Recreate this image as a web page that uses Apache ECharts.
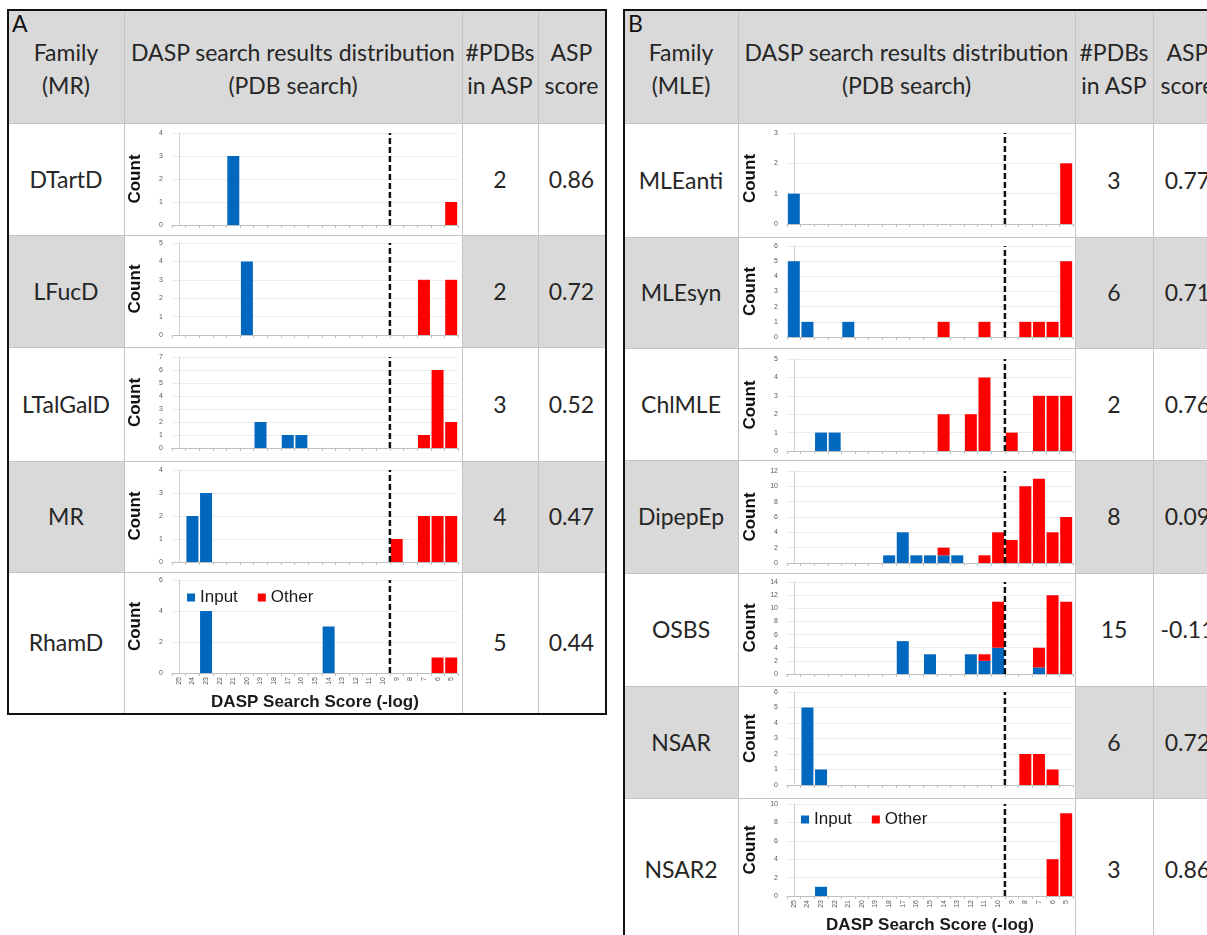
<!DOCTYPE html>
<html><head><meta charset="utf-8">
<script src="https://cdn.jsdelivr.net/npm/echarts@6/dist/echarts.min.js"></script>
<style>
html,body{margin:0;padding:0;width:1207px;height:935px;overflow:hidden;background:#fff;}
#tables{position:absolute;left:0;top:0;width:1207px;height:935px;overflow:hidden;}
#chart{position:absolute;left:0;top:0;width:1207px;height:935px;}
.bg{position:absolute;background:#d9d9d9;}
.ln{position:absolute;background:#c4c4c4;}
.box{position:absolute;box-sizing:border-box;border:2.5px solid #111;}
.cell{position:absolute;box-sizing:border-box;display:flex;align-items:center;justify-content:center;text-align:center;
  font-family:Lato,"Open Sans",sans-serif;font-size:23px;color:#262626;line-height:33px;white-space:pre;}
.lab{position:absolute;font-family:Lato,"Open Sans",sans-serif;font-size:23px;color:#111;line-height:23px;}
</style></head>
<body><div id="tables"></div><div id="chart"></div>
<script>
// ---------- DATA ----------
const categories = ['25','24','23','22','21','20','19','18','17','16','15','14','13','12','11','10','9','8','7','6','5'];
const cutoffScore = 9.5;

const headerA = ['Family\n(MR)', 'DASP search results distribution\n(PDB search)', '#PDBs\nin ASP', 'ASP\nscore'];
const headerB = ['Family\n(MLE)', 'DASP search results distribution\n(PDB search)', '#PDBs\nin ASP', 'ASP\nscore'];
const familiesA = ['DTartD','LFucD','LTalGalD','MR','RhamD'];
const pdbsA = ['2','2','3','4','5'];
const aspA = ['0.86','0.72','0.52','0.47','0.44'];
const familiesB = ['MLEanti','MLEsyn','ChlMLE','DipepEp','OSBS','NSAR','NSAR2'];
const pdbsB = ['3','6','2','8','15','6','3'];
const aspB = ['0.77','0.71','0.76','0.09','-0.11','0.72','0.86'];

//                   25 24 23 22 21 20 19 18 17 16 15 14 13 12 11 10  9  8  7  6  5
const dtartdInput   = [0, 0, 0, 0, 3, 0, 0, 0, 0, 0, 0, 0, 0, 0, 0, 0, 0, 0, 0, 0, 0];
const dtartdOther   = [0, 0, 0, 0, 0, 0, 0, 0, 0, 0, 0, 0, 0, 0, 0, 0, 0, 0, 0, 0, 1];
const lfucdInput    = [0, 0, 0, 0, 0, 4, 0, 0, 0, 0, 0, 0, 0, 0, 0, 0, 0, 0, 0, 0, 0];
const lfucdOther    = [0, 0, 0, 0, 0, 0, 0, 0, 0, 0, 0, 0, 0, 0, 0, 0, 0, 0, 3, 0, 3];
const ltalgaldInput = [0, 0, 0, 0, 0, 0, 2, 0, 1, 1, 0, 0, 0, 0, 0, 0, 0, 0, 0, 0, 0];
const ltalgaldOther = [0, 0, 0, 0, 0, 0, 0, 0, 0, 0, 0, 0, 0, 0, 0, 0, 0, 0, 1, 6, 2];
const mrInput       = [0, 2, 3, 0, 0, 0, 0, 0, 0, 0, 0, 0, 0, 0, 0, 0, 0, 0, 0, 0, 0];
const mrOther       = [0, 0, 0, 0, 0, 0, 0, 0, 0, 0, 0, 0, 0, 0, 0, 0, 1, 0, 2, 2, 2];
const rhamdInput    = [0, 0, 4, 0, 0, 0, 0, 0, 0, 0, 0, 3, 0, 0, 0, 0, 0, 0, 0, 0, 0];
const rhamdOther    = [0, 0, 0, 0, 0, 0, 0, 0, 0, 0, 0, 0, 0, 0, 0, 0, 0, 0, 0, 1, 1];

const mleantiInput  = [1, 0, 0, 0, 0, 0, 0, 0, 0, 0, 0, 0, 0, 0, 0, 0, 0, 0, 0, 0, 0];
const mleantiOther  = [0, 0, 0, 0, 0, 0, 0, 0, 0, 0, 0, 0, 0, 0, 0, 0, 0, 0, 0, 0, 2];
const mlesynInput   = [5, 1, 0, 0, 1, 0, 0, 0, 0, 0, 0, 0, 0, 0, 0, 0, 0, 0, 0, 0, 0];
const mlesynOther   = [0, 0, 0, 0, 0, 0, 0, 0, 0, 0, 0, 1, 0, 0, 1, 0, 0, 1, 1, 1, 5];
const chlmleInput   = [0, 0, 1, 1, 0, 0, 0, 0, 0, 0, 0, 0, 0, 0, 0, 0, 0, 0, 0, 0, 0];
const chlmleOther   = [0, 0, 0, 0, 0, 0, 0, 0, 0, 0, 0, 2, 0, 2, 4, 0, 1, 0, 3, 3, 3];
const dipepepInput  = [0, 0, 0, 0, 0, 0, 0, 1, 4, 1, 1, 1, 1, 0, 0, 0, 0, 0, 0, 0, 0];
const dipepepOther  = [0, 0, 0, 0, 0, 0, 0, 0, 0, 0, 0, 1, 0, 0, 1, 4, 3,10,11, 4, 6];
const osbsInput     = [0, 0, 0, 0, 0, 0, 0, 0, 5, 0, 3, 0, 0, 3, 2, 4, 0, 0, 1, 0, 0];
const osbsOther     = [0, 0, 0, 0, 0, 0, 0, 0, 0, 0, 0, 0, 0, 0, 1, 7, 0, 0, 3,12,11];
const nsarInput     = [0, 5, 1, 0, 0, 0, 0, 0, 0, 0, 0, 0, 0, 0, 0, 0, 0, 0, 0, 0, 0];
const nsarOther     = [0, 0, 0, 0, 0, 0, 0, 0, 0, 0, 0, 0, 0, 0, 0, 0, 0, 2, 2, 1, 0];
const nsar2Input    = [0, 0, 1, 0, 0, 0, 0, 0, 0, 0, 0, 0, 0, 0, 0, 0, 0, 0, 0, 0, 0];
const nsar2Other    = [0, 0, 0, 0, 0, 0, 0, 0, 0, 0, 0, 0, 0, 0, 0, 0, 0, 0, 0, 4, 9];

const yMaxA  = [4, 5, 7, 4, 6];
const yStepA = [1, 1, 1, 1, 2];
const yMaxB  = [3, 6, 5, 12, 14, 6, 10];
const yStepB = [1, 1, 1, 2, 2, 1, 2];

const inputsA = [dtartdInput, lfucdInput, ltalgaldInput, mrInput, rhamdInput];
const othersA = [dtartdOther, lfucdOther, ltalgaldOther, mrOther, rhamdOther];
const inputsB = [mleantiInput, mlesynInput, chlmleInput, dipepepInput, osbsInput, nsarInput, nsar2Input];
const othersB = [mleantiOther, mlesynOther, chlmleOther, dipepepOther, osbsOther, nsarOther, nsar2Other];

// ---------- LAYOUT ----------
const tables = [
  {label:'A', header:headerA, fam:familiesA, pdb:pdbsA, asp:aspA, inputs:inputsA, others:othersA, yMax:yMaxA, yStep:yStepA,
   cols:[8,124,462,538,605], rows:[11,123,235,347,461,572,713],
   plotTop:[133,243,357,470,580], plotH:[92,92,91,92,93], plotLeft:172, legend:[182,584]},
  {label:'B', header:headerB, fam:familiesB, pdb:pdbsB, asp:aspB, inputs:inputsB, others:othersB, yMax:yMaxB, yStep:yStepB,
   cols:[624,738,1075,1153,1222], rows:[11,123,237,348,460,573,686,798,940],
   plotTop:[133,246,359,471,582,692,804], plotH:[91,91,92,92,92,93,94], plotLeft:787, legend:[796,806]}
];
const plotW = 286;

// ---------- TABLES (HTML) ----------
const host = document.getElementById('tables');
function add(cls, x, y, w, h, text){
  const d = document.createElement('div'); d.className = cls;
  d.style.left = x+'px'; d.style.top = y+'px';
  if (w!=null) d.style.width = w+'px';
  if (h!=null) d.style.height = h+'px';
  if (text!=null) d.textContent = text;
  host.appendChild(d); return d;
}
tables.forEach(t => {
  const c = t.cols, r = t.rows;
  add('bg', c[0], r[0], c[4]-c[0], r[1]-r[0]);
  for (let i=1;i<r.length-1;i++){
    if ((i-1)%2===1){
      add('bg', c[0], r[i], c[1]-c[0], r[i+1]-r[i]);
      add('bg', c[2], r[i], c[4]-c[2], r[i+1]-r[i]);
    }
  }
  for (let k=1;k<4;k++) add('ln', c[k]-0.5, r[0], 1.2, r[r.length-1]-r[0]);
  for (let i=1;i<r.length-1;i++) add('ln', c[0], r[i]-0.5, c[4]-c[0], 1.5);
  for (let k=0;k<4;k++) add('cell', c[k], r[0], c[k+1]-c[k], r[1]-r[0]+4, t.header[k]);
  add('lab', c[0]+4, r[0]+1, null, null, t.label);
  t.fam.forEach((f,i) => {
    add('cell', c[0], r[i+1], c[1]-c[0], r[i+2]-r[i+1], f);
    add('cell', c[2], r[i+1], c[3]-c[2], r[i+2]-r[i+1], t.pdb[i]);
    add('cell', c[3], r[i+1], c[4]-c[3], r[i+2]-r[i+1], t.asp[i]);
  });
  add('box', c[0]-1.5, r[0]-2, c[4]-c[0]+3, r[r.length-1]-r[0]+3.5);
});

// ---------- CHARTS (ECharts) ----------
const cutoffIndex = categories.indexOf('10') + (10 - cutoffScore);
const grids = [], xAxes = [], yAxes = [], series = [], legends = [];
const axisFont = 'Liberation Sans';
tables.forEach(t => {
  const n = t.fam.length;
  for (let i=0;i<n;i++){
    const g = grids.length;
    const isBottom = (i === n-1);
    grids.push({left:t.plotLeft, top:t.plotTop[i], width:plotW, height:t.plotH[i], containLabel:false});
    xAxes.push({
      type:'category', gridIndex:g, data:categories, boundaryGap:true,
      axisLine:{show:true, lineStyle:{color:'#bfbfbf', width:1}},
      axisTick:{show:true, length:3, lineStyle:{color:'#bfbfbf'}},
      axisLabel:{show:isBottom, rotate:90, interval:0, fontSize:7, color:'#595959', margin:4, fontFamily:axisFont},
      splitLine:{show:false},
      name:isBottom ? 'DASP Search Score (-log)' : '', nameLocation:'middle', nameGap:21,
      nameTextStyle:{fontSize:17, fontWeight:'bold', color:'#1a1a1a', fontFamily:axisFont}
    });
    xAxes.push({type:'value', gridIndex:g, min:-0.5, max:categories.length-0.5, show:false});
    yAxes.push({
      type:'value', gridIndex:g, min:0, max:t.yMax[i], interval:t.yStep[i],
      axisLine:{show:true, lineStyle:{color:'#d0d0d0'}},
      axisTick:{show:false},
      axisLabel:{fontSize:7, color:'#595959', margin:9, fontFamily:axisFont},
      splitLine:{show:true, lineStyle:{color:'#ececec', width:1}},
      name:'Count', nameLocation:'middle', nameGap:28,
      nameTextStyle:{fontSize:17, fontWeight:'bold', color:'#111', fontFamily:axisFont}
    });
    series.push({name:'Input', type:'bar', xAxisIndex:2*g, yAxisIndex:g, stack:'s'+g, data:t.inputs[i],
      barCategoryGap:'12%', itemStyle:{color:'#0068BF'}, silent:true});
    series.push({name:'Other', type:'bar', xAxisIndex:2*g, yAxisIndex:g, stack:'s'+g, data:t.others[i],
      barCategoryGap:'12%', itemStyle:{color:'#FF0000'}, silent:true});
    series.push({name:'cutoff'+g, type:'line', xAxisIndex:2*g+1, yAxisIndex:g,
      data:[[cutoffIndex,0],[cutoffIndex,t.yMax[i]]], symbol:'none', z:5, silent:true,
      lineStyle:{color:'#111', width:2.5, type:[6,3]}});
  }
  legends.push({data:['Input','Other'], left:t.legend[0], top:t.legend[1], icon:'rect',
    itemWidth:8, itemHeight:8, itemGap:20, selectedMode:false,
    textStyle:{fontSize:17, color:'#1a1a1a', fontFamily:axisFont}});
});

const chart = echarts.init(document.getElementById('chart'), null, {renderer:'canvas'});
chart.setOption({
  animation:false,
  backgroundColor:'transparent',
  grid:grids, xAxis:xAxes, yAxis:yAxes, series:series, legend:legends
});
</script>
</body></html>
